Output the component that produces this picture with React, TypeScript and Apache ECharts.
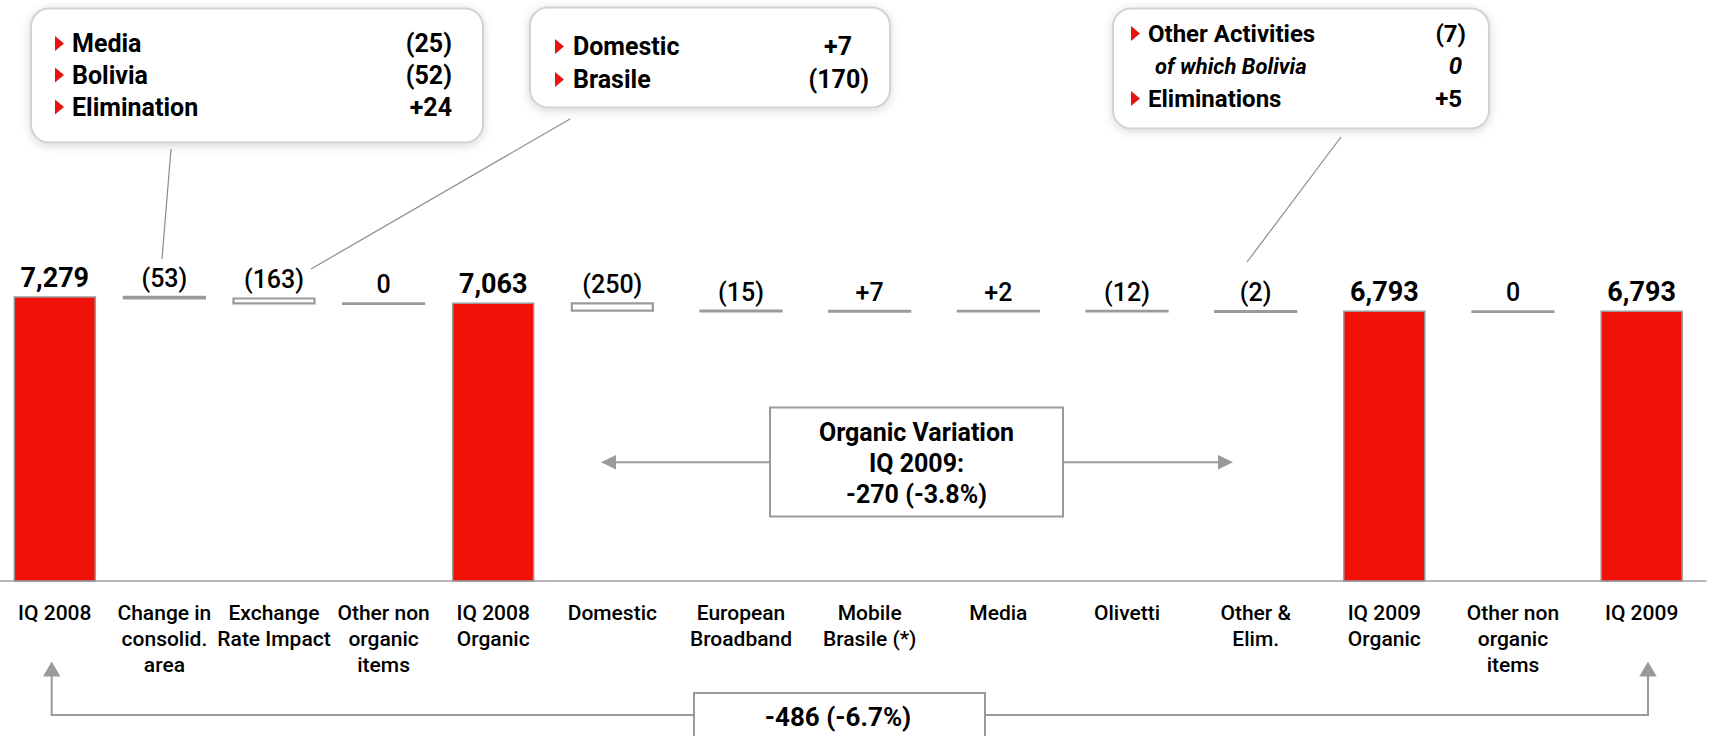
import React, { useEffect, useRef } from "react";
import * as echarts from "echarts";

// ---------- data ----------
const categories = [
  "IQ 2008",
  "Change in\nconsolid.\narea",
  "Exchange\nRate Impact",
  "Other non\norganic\nitems",
  "IQ 2008\nOrganic",
  "Domestic",
  "European\nBroadband",
  "Mobile\nBrasile (*)",
  "Media",
  "Olivetti",
  "Other &\nElim.",
  "IQ 2009\nOrganic",
  "Other non\norganic\nitems",
  "IQ 2009",
];
const values = [7279, -53, -163, 0, 7063, -250, -15, 7, 2, -12, -2, 6793, 0, 6793];
const isTotal = [true, false, false, false, true, false, false, false, false, false, false, true, false, true];
const leftCount = 5; // non-organic section shown in the first panel

const areaLabels = ["Media", "Bolivia", "Elimination"];
const areaValues = ["(25)", "(52)", "+24"];
const fxLabels = ["Domestic", "Brasile"];
const fxValues = ["+7", "(170)"];
const otherLabels = ["Other Activities", "of which Bolivia", "Eliminations"];
const otherValues = ["(7)", "0", "+5"];
const organicNote = ["Organic Variation", "IQ 2009:", "-270 (-3.8%)"];
const totalNote = "-486 (-6.7%)";

// ---------- scale ----------
const Y_MIN = -2350;
const Y_MAX = 9650;
const RED = "#f01208";
const GREY = "#9a9a9a";
const BAR_W = 81;

type Item = { lo: number; hi: number; total: boolean; v: number };
const items: Item[] = (() => {
  let level = 0;
  return values.map((v, i) => {
    if (isTotal[i]) {
      level = v;
      return { lo: Y_MIN, hi: v, total: true, v };
    }
    const start = level;
    level = level + v;
    return { lo: Math.min(start, level), hi: Math.max(start, level), total: false, v };
  });
})();

const fmt = (it: Item) => {
  if (it.total) return it.v.toLocaleString("en-US");
  if (it.v < 0) return `(${-it.v})`;
  if (it.v > 0) return `+${it.v}`;
  return "0";
};

const renderItem = (_params: any, api: any) => {
  const gi = api.value(3);
  const it = items[gi];
  const top = api.coord([api.value(0), it.hi]);
  const bot = api.coord([api.value(0), it.lo]);
  const h = Math.max(bot[1] - top[1], 0.6);
  return {
    type: "rect",
    shape: { x: top[0] - BAR_W / 2, y: top[1], width: BAR_W, height: h },
    style: it.total
      ? { fill: RED, stroke: GREY, lineWidth: 1.5 }
      : { fill: "#ffffff", stroke: GREY, lineWidth: 2.2 },
    textContent: {
      style: {
        text: fmt(it),
        fontFamily: "Roboto",
        fontSize: it.total ? 27 : 25,
        fontWeight: it.total ? "bold" : 500,
        fill: "#000",
      },
    },
    textConfig: { position: "top", distance: 5 },
  };
};

// ---------- graphic helpers ----------
const txt = (x: number, y: number, text: string, size: number, align = "left", extra: any = {}) => ({
  type: "text",
  x,
  y,
  z: 20,
  style: {
    text,
    fontFamily: "Roboto",
    fontSize: size,
    fontWeight: "bold",
    fill: "#000",
    textAlign: align,
    textVerticalAlign: "middle",
    ...extra,
  },
});
const tri = (x: number, y: number) => ({
  type: "polygon",
  z: 20,
  shape: { points: [[x, y - 7.5], [x + 9, y], [x, y + 7.5]] },
  style: { fill: "#e8150e" },
});
const box = (x: number, y: number, w: number, h: number) => ({
  type: "rect",
  z: 10,
  shape: { x, y, width: w, height: h, r: 18 },
  style: {
    fill: "#ffffff",
    stroke: "#d2d2d2",
    lineWidth: 2,
    shadowBlur: 10,
    shadowColor: "rgba(0,0,0,0.16)",
    shadowOffsetY: 2,
  },
});
const seg = (x1: number, y1: number, x2: number, y2: number, w = 1.2, c = "#8c8c8c") => ({
  type: "line",
  z: 5,
  shape: { x1, y1, x2, y2 },
  style: { stroke: c, lineWidth: w },
});

function buildGraphics() {
  const g: any[] = [];
  // leader lines
  g.push(seg(171, 149, 162, 259));
  g.push(seg(570, 119, 311, 269));
  g.push(seg(1341, 137, 1247, 262));

  // callout 1
  g.push(box(31, 8.5, 452, 134));
  const r1 = [43.5, 75, 107];
  areaLabels.forEach((t, i) => {
    g.push(tri(55, r1[i]));
    g.push(txt(72, r1[i], t, 25));
    g.push(txt(452, r1[i], areaValues[i], 25, "right"));
  });

  // callout 2
  g.push(box(530, 7.5, 360, 100));
  const r2 = [46.5, 79.5];
  const v2x = [852, 869];
  fxLabels.forEach((t, i) => {
    g.push(tri(555, r2[i]));
    g.push(txt(573, r2[i], t, 25));
    g.push(txt(v2x[i], r2[i], fxValues[i], 25, "right"));
  });

  // callout 3
  g.push(box(1113, 8.5, 376, 120));
  const r3 = [33.5, 66, 98.5];
  const v3x = [1466, 1462, 1462];
  otherLabels.forEach((t, i) => {
    const italic = i === 1;
    if (!italic) g.push(tri(1131, r3[i]));
    g.push(
      txt(italic ? 1155 : 1148, r3[i], t, italic ? 22 : 24, "left", italic ? { fontStyle: "italic" } : {})
    );
    g.push(txt(v3x[i], r3[i], otherValues[i], 24, "right", italic ? { fontStyle: "italic" } : {}));
  });

  // organic variation box + arrows
  g.push(seg(615, 462.3, 770, 462.3, 2, GREY));
  g.push({ type: "polygon", z: 6, shape: { points: [[601, 462.3], [616, 455], [616, 469.6]] }, style: { fill: GREY } });
  g.push(seg(1063, 462.3, 1218, 462.3, 2, GREY));
  g.push({ type: "polygon", z: 6, shape: { points: [[1233, 462.3], [1218, 455], [1218, 469.6]] }, style: { fill: GREY } });
  g.push({
    type: "rect",
    z: 10,
    shape: { x: 770, y: 407.5, width: 293, height: 109 },
    style: { fill: "#fff", stroke: GREY, lineWidth: 2 },
  });
  const ro = [432.5, 463, 494.5];
  organicNote.forEach((t, i) => g.push(txt(916.5, ro[i], t, 25, "center")));

  // total variation arrows
  g.push({
    type: "polyline",
    z: 5,
    shape: { points: [[51.7, 676], [51.7, 715], [694, 715]] },
    style: { stroke: GREY, lineWidth: 2, fill: null },
  });
  g.push({ type: "polygon", z: 6, shape: { points: [[43, 676.5], [51.7, 661.5], [60.4, 676.5]] }, style: { fill: GREY } });
  g.push({
    type: "polyline",
    z: 5,
    shape: { points: [[985, 715], [1648, 715], [1648, 676]] },
    style: { stroke: GREY, lineWidth: 2, fill: null },
  });
  g.push({ type: "polygon", z: 6, shape: { points: [[1639.3, 676.5], [1648, 661.5], [1656.7, 676.5]] }, style: { fill: GREY } });
  g.push({
    type: "rect",
    z: 10,
    shape: { x: 694, y: 693, width: 291, height: 60 },
    style: { fill: "#fff", stroke: GREY, lineWidth: 2 },
  });
  g.push(txt(838, 717, totalNote, 26, "center"));
  return g;
}

export default function App() {
  const ref = useRef<HTMLDivElement>(null);
  useEffect(() => {
    if (!ref.current) return;
    const chart = echarts.init(ref.current, undefined, { renderer: "svg" });

    const leftCats = categories.slice(0, leftCount);
    const rightCats = categories.slice(leftCount);
    const leftData = items.slice(0, leftCount).map((it, i) => [i, it.lo, it.hi, i]);
    const rightData = items.slice(leftCount).map((it, i) => [i, it.lo, it.hi, i + leftCount]);

    const xAxisCommon = {
      type: "category",
      axisLine: { show: true, onZero: false, lineStyle: { color: "#a0a0a0", width: 1.5 } },
      axisTick: { show: false },
      splitLine: { show: false },
      axisLabel: {
        interval: 0,
        margin: 19,
        color: "#000",
        fontFamily: "Roboto",
        fontSize: 21,
        fontWeight: 500,
        lineHeight: 26,
      },
    };
    const yAxisCommon = {
      type: "value",
      min: Y_MIN,
      max: Y_MAX,
      show: false,
      splitLine: { show: false },
    };

    chart.setOption({
      animation: false,
      backgroundColor: "#ffffff",
      grid: [
        { left: 0, width: 548, top: 227, bottom: 155 },
        { left: 548, width: 1158, top: 227, bottom: 155 },
      ],
      xAxis: [
        { ...xAxisCommon, gridIndex: 0, data: leftCats },
        { ...xAxisCommon, gridIndex: 1, data: rightCats },
      ],
      yAxis: [
        { ...yAxisCommon, gridIndex: 0 },
        { ...yAxisCommon, gridIndex: 1 },
      ],
      series: [
        {
          type: "custom",
          xAxisIndex: 0,
          yAxisIndex: 0,
          renderItem,
          encode: { x: 0, y: [1, 2] },
          data: leftData,
          z: 3,
        },
        {
          type: "custom",
          xAxisIndex: 1,
          yAxisIndex: 1,
          renderItem,
          encode: { x: 0, y: [1, 2] },
          data: rightData,
          z: 3,
        },
      ],
      graphic: buildGraphics(),
    });
    return () => chart.dispose();
  }, []);
  return (
    <div
      ref={ref}
      style={{ position: "absolute", left: 0, top: 0, width: 1714, height: 736, background: "#fff" }}
    />
  );
}
